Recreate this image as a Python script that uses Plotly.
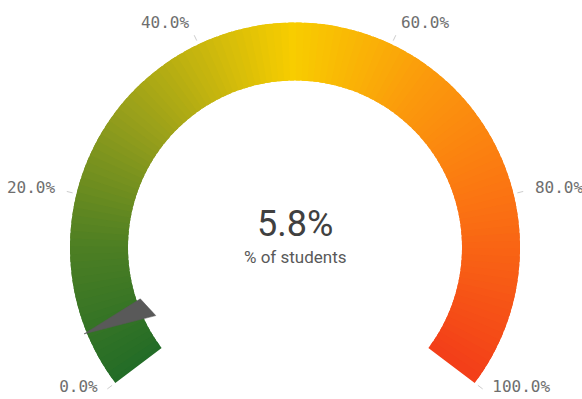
import numpy as np
import plotly.graph_objects as go

# data
value = 5.8
v_min, v_max = 0, 100
tick_values = [0, 20, 40, 60, 80, 100]
tick_labels = ["0.0%", "20.0%", "40.0%", "60.0%", "80.0%", "100.0%"]
measure_label = "% of students"

# colour gradient along the arc (fraction of range -> colour)
stop_pos = [0.0, 0.15, 0.3, 0.5, 0.65, 0.8, 1.0]
stop_col = ["#226b27", "#4d7f23", "#979f1b", "#f8cd00", "#fb9a0c", "#fb7412", "#f33e19"]

# geometry (pixels); the polar radius is where the tick labels hang
W, H = 582, 399
SPAN = 254                      # arc in degrees
END = 90 - SPAN / 2             # screen angle of the maximum (-37)
PAD = 0.5                       # extra sector so the end labels stay inside
cx, cy, R = 295, 247.5, 247.5   # centre and polar radius
r_in, r_out = 167 / R, 225 / R  # arc band
t_in, t_out = 229 / R, 235 / R  # tick marks
r_lab = 0.998                   # tick labels


def hex2rgb(h):
    return [int(h[i:i + 2], 16) for i in (1, 3, 5)]


def grad(f):
    rgb = [np.interp(f, stop_pos, [hex2rgb(c)[k] for c in stop_col]) for k in range(3)]
    return "rgb(%d,%d,%d)" % tuple(int(round(x)) for x in rgb)


def to_theta(v):
    # theta runs counterclockwise from the max end of the arc
    return (v_max - v) / (v_max - v_min) * SPAN


# arc made of thin, slightly overlapping segments
n = 127
step = (v_max - v_min) / n
seg_lo = [max(v_min, v_min + (i - 0.35) * step) for i in range(n)]
seg_hi = [min(v_max, v_min + (i + 1.35) * step) for i in range(n)]
seg_theta = [(to_theta(a) + to_theta(b)) / 2 for a, b in zip(seg_lo, seg_hi)]
seg_width = [abs(to_theta(a) - to_theta(b)) for a, b in zip(seg_lo, seg_hi)]
seg_col = [grad((i + 0.5) / n) for i in range(n)]

fig = go.Figure()
fig.add_trace(go.Barpolar(
    theta=seg_theta,
    r=[r_out - r_in] * n,
    base=r_in,
    width=seg_width,
    marker=dict(color=seg_col, line=dict(width=0)),
    hoverinfo="skip",
    showlegend=False,
))

# needle: thin triangle, wide near the inner edge, pointed at the outer edge
t = to_theta(value)
needle_r = [228 / R, 163 / R, 155 / R, 228 / R]
needle_t = [t, t - 3.9, t + 3.8, t]
fig.add_trace(go.Scatterpolar(
    r=needle_r, theta=needle_t,
    mode="lines", fill="toself",
    fillcolor="#595959", line=dict(color="#595959", width=0.5),
    hoverinfo="skip", showlegend=False,
))

# tick marks just outside the arc
tick_r, tick_t = [], []
for v in tick_values:
    tick_r += [t_in, t_out, None]
    tick_t += [to_theta(v), to_theta(v), None]
fig.add_trace(go.Scatterpolar(
    r=tick_r, theta=tick_t, mode="lines",
    line=dict(color="#cccccc", width=1),
    hoverinfo="skip", showlegend=False,
))

# tick labels
lab_pos = []
for v in tick_values:
    f = (v - v_min) / (v_max - v_min)
    vert = "top" if f in (0, 1) else "middle"
    lab_pos.append(vert + (" left" if f < 0.5 else " right"))
fig.add_trace(go.Scatterpolar(
    r=[r_lab] * len(tick_values),
    theta=[to_theta(v) for v in tick_values],
    mode="text", text=tick_labels, textposition=lab_pos,
    textfont=dict(family="DejaVu Sans Mono", size=16, color="#6e6e6e"),
    cliponaxis=False, hoverinfo="skip", showlegend=False,
))

# polar domain so that the sector's bounding box lands where it should
below = np.sin(np.radians(SPAN / 2 + PAD - 90))
x_dom = [(cx - R) / W, (cx + R) / W]
y_dom = [max(0.0, 1 - (cy + R * below) / H), min(1.0, 1 - (cy - R) / H)]

fig.update_layout(
    width=W, height=H,
    margin=dict(l=0, r=0, t=0, b=0),
    paper_bgcolor="white",
    plot_bgcolor="white",
    polar=dict(
        domain=dict(x=x_dom, y=y_dom),
        sector=[END - PAD, END + SPAN + PAD],
        bgcolor="rgba(0,0,0,0)",
        radialaxis=dict(range=[0, 1], visible=False),
        angularaxis=dict(
            rotation=END,
            direction="counterclockwise",
            thetaunit="degrees",
            ticks="",
            showticklabels=False,
            showline=False,
            showgrid=False,
        ),
    ),
    annotations=[
        dict(x=cx / W, y=1 - 224 / H, xref="paper", yref="paper",
             text=f"{value:.1f}%", showarrow=False,
             font=dict(family="Roboto", size=36, color="#404040")),
        dict(x=cx / W, y=1 - 257 / H, xref="paper", yref="paper",
             text=measure_label, showarrow=False,
             font=dict(family="Roboto", size=17, color="#595959")),
    ],
)

fig.write_html("out.html", config={"displayModeBar": False},
               post_script="document.body.style.margin='0';")
